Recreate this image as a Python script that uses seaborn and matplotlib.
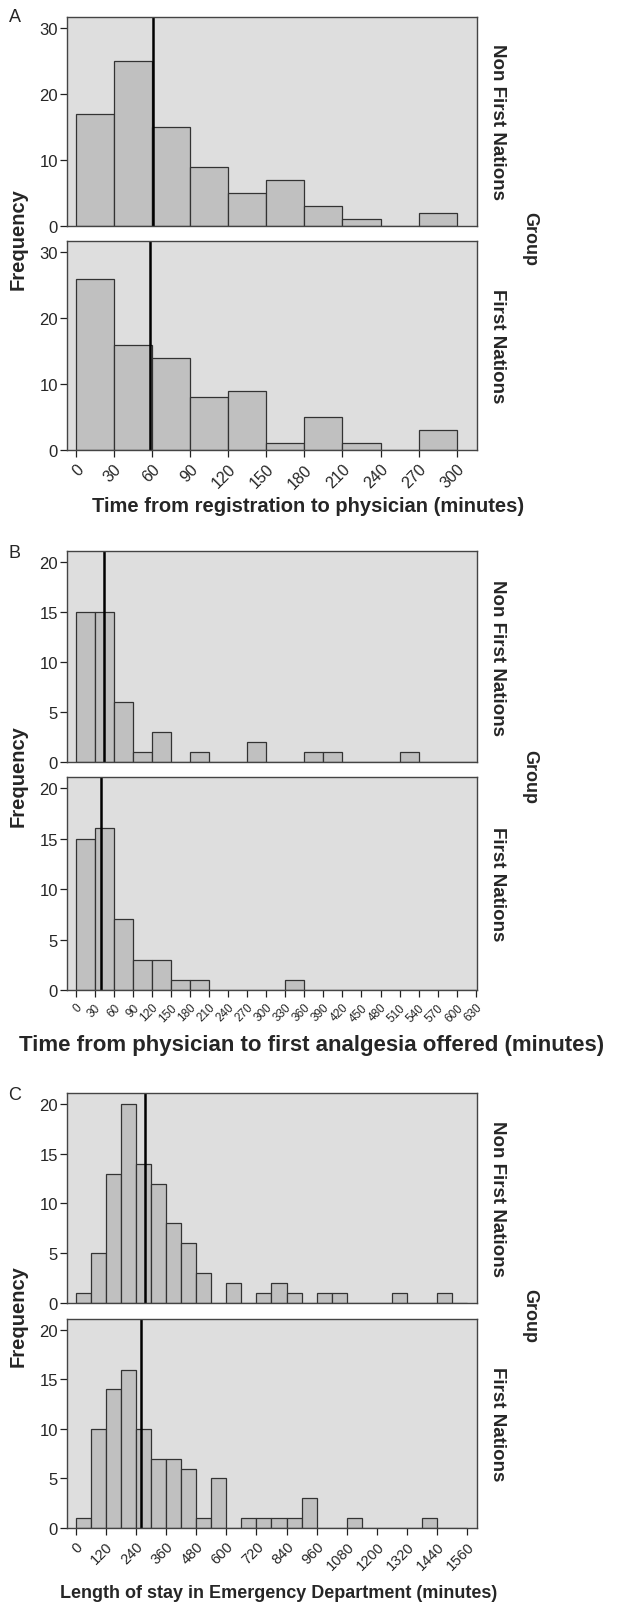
import numpy as np
import pandas as pd
import matplotlib
matplotlib.use("Agg")
import matplotlib.pyplot as plt
import seaborn as sns

sns.set_style("white")
plt.rcParams['font.family'] = ['Liberation Sans', 'DejaVu Sans']

groups = ["Non First Nations", "First Nations"]

# panel A: registration -> physician, 30 min bins
a_edges = list(range(0, 301, 30))
a_ticks = list(range(0, 301, 30))
a_non_fn = [17, 25, 15, 9, 5, 7, 3, 1, 0, 2]
a_fn = [26, 16, 14, 8, 9, 1, 5, 1, 0, 3]
a_median = [61, 58]

# panel B: physician -> first analgesia, 30 min bins
b_edges = list(range(0, 631, 30))
b_ticks = list(range(0, 631, 30))
b_non_fn = [15, 15, 6, 1, 3, 0, 1, 0, 0, 2, 0, 0, 1, 1, 0, 0, 0, 1, 0, 0, 0]
b_fn = [15, 16, 7, 3, 3, 1, 1, 0, 0, 0, 0, 1, 0, 0, 0, 0, 0, 0, 0, 0, 0]
b_median = [44, 39]

# panel C: length of stay, 60 min bins
c_edges = list(range(0, 1561, 60))
c_ticks = list(range(0, 1561, 120))
c_non_fn = [1, 5, 13, 20, 14, 12, 8, 6, 3, 0, 2, 0, 1, 2, 1, 0, 1, 1, 0, 0, 0, 1, 0, 0, 1, 0]
c_fn = [1, 10, 14, 16, 10, 7, 7, 6, 1, 5, 0, 1, 1, 1, 1, 3, 0, 0, 1, 0, 0, 0, 0, 1, 0, 0]
c_median = [276, 259]

panels = [
    dict(letter="A", edges=a_edges, ticks=a_ticks, counts=[a_non_fn, a_fn], med=a_median,
         xlabel="Time from registration to physician (minutes)",
         xlim=(-7, 316), ylim=(0, 31.7), yticks=[0, 10, 20, 30], tsize=11.5,
         rows=[(18, 227), (242, 451)], lab_y=18,
         title_xy=(308, 507), title_size=14.5),
    dict(letter="B", edges=b_edges, ticks=b_ticks, counts=[b_non_fn, b_fn], med=b_median,
         xlabel="Time from physician to first analgesia offered (minutes)",
         xlim=(-14, 632), ylim=(0, 21.1), yticks=[0, 5, 10, 15, 20], tsize=8.5,
         rows=[(552, 763), (778, 991)], lab_y=553,
         title_xy=(312, 1045), title_size=16),
    dict(letter="C", edges=c_edges, ticks=c_ticks, counts=[c_non_fn, c_fn], med=c_median,
         xlabel="Length of stay in Emergency Department (minutes)",
         xlim=(-35, 1599), ylim=(0, 21.1), yticks=[0, 5, 10, 15, 20], tsize=10.5,
         rows=[(1094, 1304), (1320, 1529)], lab_y=1096,
         title_xy=(279, 1594), title_size=13),
]

W, H = 623, 1606
fig = plt.figure(figsize=(W / 100, H / 100), dpi=100)

bg = "#dedede"
bar_col = "#c0c0c0"
edge_col = "#333333"

for p in panels:
    edges = np.array(p["edges"])
    centers = (edges[:-1] + edges[1:]) / 2
    for i, (top, bot) in enumerate(p["rows"]):
        ax = fig.add_axes([67 / W, 1 - bot / H, 410 / W, (bot - top) / H])
        ax.set_facecolor(bg)
        df = pd.DataFrame({"minutes": centers, "n": p["counts"][i]})
        sns.histplot(data=df, x="minutes", weights="n", bins=p["edges"], ax=ax,
                     color=bar_col, edgecolor=edge_col, linewidth=0.9, alpha=1)
        ax.axvline(p["med"][i], color="black", lw=1.8)
        ax.set_xlim(*p["xlim"])
        ax.set_ylim(*p["ylim"])
        ax.set_yticks(p["yticks"])
        ax.set_ylabel("")
        ax.set_xlabel("")
        for s in ax.spines.values():
            s.set_color("#444444")
            s.set_linewidth(1.0)
        ax.tick_params(axis="y", direction="out", length=5, width=0.9,
                       color="#222222", labelsize=12, pad=1.5, left=True)
        ax.text(1.03, 0.5, groups[i], transform=ax.transAxes, rotation=-90,
                ha="left", va="center", fontsize=13.5, fontweight="bold")
        if i == 0:
            ax.set_xticks([])
        else:
            ax.set_xticks(p["ticks"])
            ax.set_xticklabels([str(v) for v in p["ticks"]], rotation=45,
                               ha="right", rotation_mode="anchor",
                               fontsize=p["tsize"])
            ax.tick_params(axis="x", direction="out", length=5, width=0.9,
                           color="#222222", pad=3, bottom=True)
    tx, ty = p["title_xy"]
    fig.text(tx / W, 1 - ty / H, p["xlabel"], ha="center", va="center",
             fontsize=p["title_size"], fontweight="bold")
    top0, bot1 = p["rows"][0][0], p["rows"][1][1]
    mid = 1 - ((top0 + bot1) / 2 + 5) / H
    fig.text(18 / W, mid, "Frequency", rotation=90, ha="center", va="center",
             fontsize=14.5, fontweight="bold")
    fig.text(530 / W, mid, "Group", rotation=-90, ha="center", va="center",
             fontsize=13, fontweight="bold")
    fig.text(15 / W, 1 - p["lab_y"] / H, p["letter"], ha="center", va="center",
             fontsize=13)

fig.savefig("out.png", dpi=100)
